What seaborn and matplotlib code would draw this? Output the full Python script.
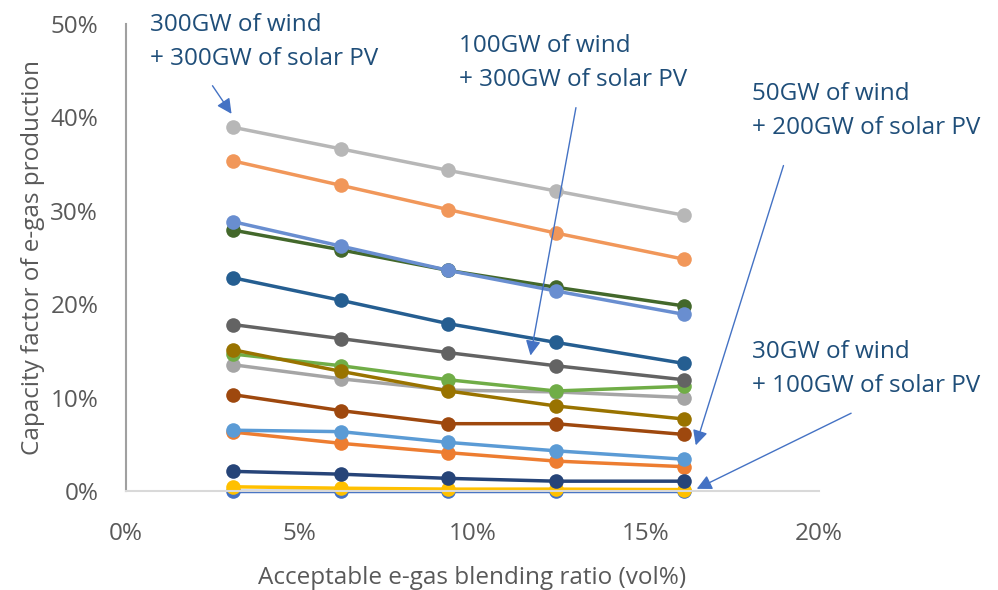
import numpy as np
import pandas as pd
import matplotlib
matplotlib.use("Agg")
import matplotlib.pyplot as plt
import seaborn as sns
from matplotlib.ticker import PercentFormatter

# blending ratio (vol%) for each point
blend = [3.1, 6.2, 9.3, 12.4, 16.1]

# capacity factor (%) per scenario
s01 = [0.05, 0.05, 0.05, 0.05, 0.05]
s02 = [6.3, 5.1, 4.1, 3.2, 2.6]
s03 = [13.5, 12.0, 10.8, 10.6, 10.0]
s04 = [0.45, 0.3, 0.2, 0.2, 0.15]
s05 = [6.5, 6.35, 5.2, 4.3, 3.4]
s06 = [14.65, 13.4, 11.9, 10.7, 11.2]
s07 = [2.1, 1.8, 1.35, 1.05, 1.05]
s08 = [10.3, 8.6, 7.2, 7.2, 6.05]
s09 = [17.8, 16.3, 14.8, 13.4, 11.9]
s10 = [15.1, 12.8, 10.7, 9.1, 7.7]
s11 = [22.8, 20.4, 17.9, 15.9, 13.65]
s12 = [27.9, 25.8, 23.6, 21.8, 19.8]
s13 = [28.8, 26.2, 23.6, 21.4, 18.9]
s14 = [35.3, 32.7, 30.1, 27.6, 24.8]
s15 = [38.9, 36.6, 34.3, 32.1, 29.5]

series = [s01, s02, s03, s04, s05, s06, s07, s08, s09, s10, s11, s12, s13, s14, s15]
names = ["S%02d" % (i + 1) for i in range(len(series))]
colors = ["#4472C4", "#ED7D31", "#A5A5A5", "#FFC000", "#5B9BD5", "#70AD47",
          "#264478", "#9E480E", "#636363", "#997300", "#255E91", "#43682B",
          "#698ED0", "#F1975A", "#B7B7B7"]

rows = []
for name, vals in zip(names, series):
    for x, y in zip(blend, vals):
        rows.append({"blend": x, "cf": y, "series": name})
df = pd.DataFrame(rows)

sns.set_style("white")
plt.rcParams["font.family"] = ["Open Sans", "DejaVu Sans"]

fs = 17.5
fig = plt.figure(figsize=(9.98, 5.90), dpi=100)
ax = fig.add_axes([0.1263, 0.1678, 0.6943, 0.7922])

sns.lineplot(data=df, x="blend", y="cf", hue="series", palette=colors,
             marker="o", markersize=10.5, markeredgewidth=0, linewidth=2.5,
             legend=False, ax=ax)
for ln in ax.lines:
    ln.set_clip_on(False)

ax.set_xlim(0, 20)
ax.set_ylim(0, 50)
ax.set_xticks([0, 5, 10, 15, 20])
ax.set_yticks([0, 10, 20, 30, 40, 50])
ax.xaxis.set_major_formatter(PercentFormatter(decimals=0))
ax.yaxis.set_major_formatter(PercentFormatter(decimals=0))
ax.tick_params(axis="both", length=0, labelsize=fs, labelcolor="#595959")
ax.tick_params(axis="y", pad=20)
ax.tick_params(axis="x", pad=22)

for side in ["top", "right"]:
    ax.spines[side].set_visible(False)
ax.spines["left"].set_color("#A0A0A0")
ax.spines["left"].set_linewidth(1.5)
ax.spines["bottom"].set_color("#D9D9D9")
ax.spines["bottom"].set_linewidth(1.5)

ax.set_xlabel("Acceptable e-gas blending ratio (vol%)", fontsize=fs, color="#595959", labelpad=15)
ax.set_ylabel("Capacity factor of e-gas production", fontsize=fs, color="#595959", labelpad=4)

txt_color = "#1F4E79"
arrow_kw = dict(arrowstyle="-|>,head_length=0.9,head_width=0.45", color="#4472C4", lw=1.0)
ls = 1.55

ax.annotate("300GW of wind\n+ 300GW of solar PV", xy=(0.69, 51.1), fontsize=fs,
            color=txt_color, ha="left", va="top", linespacing=ls, annotation_clip=False)
ax.annotate("", xy=(3.09, 40.1), xytext=(2.45, 43.6), arrowprops=arrow_kw, annotation_clip=False)

ax.annotate("100GW of wind\n+ 300GW of solar PV", xy=(9.6, 48.9), fontsize=fs,
            color=txt_color, ha="left", va="top", linespacing=ls, annotation_clip=False)
ax.annotate("", xy=(11.66, 14.2), xytext=(13.0, 41.3), arrowprops=arrow_kw, annotation_clip=False)

ax.annotate("50GW of wind\n+ 200GW of solar PV", xy=(18.07, 43.7), fontsize=fs,
            color=txt_color, ha="left", va="top", linespacing=ls, annotation_clip=False)
ax.annotate("", xy=(16.42, 4.6), xytext=(19.0, 35.1), arrowprops=arrow_kw, annotation_clip=False)

ax.annotate("30GW of wind\n+ 100GW of solar PV", xy=(18.07, 16.1), fontsize=fs,
            color=txt_color, ha="left", va="top", linespacing=ls, annotation_clip=False)
ax.annotate("", xy=(16.4, 0.1), xytext=(21.0, 8.45), arrowprops=arrow_kw, annotation_clip=False)

fig.savefig("out.png", dpi=100)
